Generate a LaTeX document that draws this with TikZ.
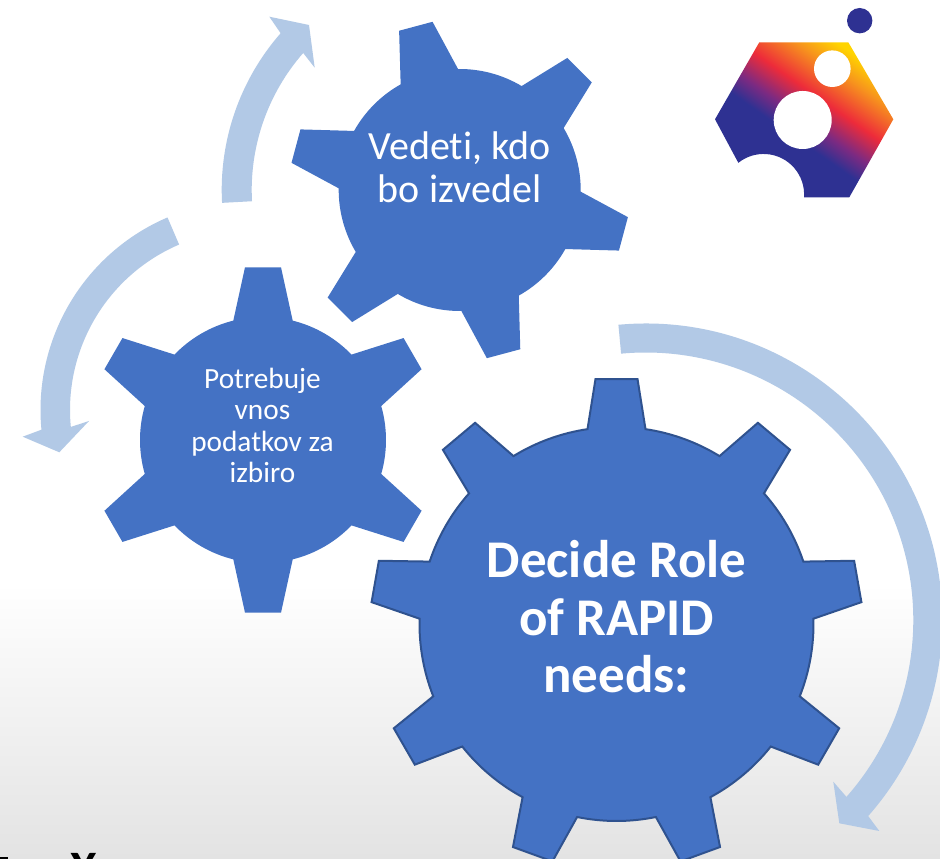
\documentclass[tikz,border=0pt]{standalone}
\usepackage{fontspec}
\setmainfont{Carlito}[Ligatures=NoCommon]
\usepackage{xcolor}
\usepackage{tikz}
\usetikzlibrary{positioning,calc}
\definecolor{gearBlue}{HTML}{4472C4}
\definecolor{gearEdge}{HTML}{2F528F}
\definecolor{arrowBlue}{HTML}{B2C9E6}
\definecolor{logoNavy}{HTML}{2E3192}
\definecolor{logoPurple}{HTML}{7B2A82}
\definecolor{logoRed}{HTML}{ED2B3A}
\definecolor{logoOrange}{HTML}{F7941D}
\definecolor{logoYellow}{HTML}{FFD400}
\pgfdeclareverticalshading{logoShade}{100bp}{
  color(0bp)=(logoNavy); color(44bp)=(logoNavy); color(50bp)=(logoPurple);
  color(58bp)=(logoRed); color(68bp)=(logoOrange); color(75bp)=(logoYellow);
  color(100bp)=(logoYellow)}
\tikzset{
  gearFill/.style={fill=gearBlue},
  gearLine/.style={fill=gearBlue,draw=gearEdge,line width=2pt,line join=miter},
  blockArrow/.style={fill=arrowBlue},
  gearText/.style={text=white,align=center,inner sep=0pt}
}
% options, centre, rim radius, tooth length, base half width, tip half width, teeth, first angle
\newcommand{\gearWheel}[8]{%
  \pgfmathsetmacro{\baseA}{asin(#5/#3)}
  \pgfmathsetmacro{\tipA}{atan(#6/#4)}
  \pgfmathsetmacro{\tipR}{veclen(#4,#6)}
  \pgfmathsetmacro{\stepA}{360/#7}
  \path[#1,shift={(#2)}] (#8+\stepA-\baseA:#3)
    \foreach \i in {1,...,#7}{
      -- (#8+\i*\stepA-\tipA:\tipR) -- (#8+\i*\stepA+\tipA:\tipR) -- (#8+\i*\stepA+\baseA:#3)
      arc[start angle=#8+\i*\stepA+\baseA,delta angle=\stepA-2*\baseA,radius=#3]
    } -- cycle;
}
\begin{document}
\begin{tikzpicture}[x=1pt,y=1pt]
  \useasboundingbox (0,0) rectangle (940,859);
  \clip (0,0) rectangle (940,859);
  \fill[white] (0,0) rectangle (940,859);
  \shade[top color=white,bottom color=black!11] (0,0) rectangle (940,275);

  % circular arrows
  \coordinate (topC) at (459.7,669);
  \fill[blockArrow] ($(topC)+(183.1:238)$) arc[start angle=183.1,end angle=138.8,radius=238]
    -- (269.3,842.3) -- (309,834) -- (314.7,791.3) -- ($(topC)+(138.8:208)$)
    arc[start angle=138.8,end angle=183.1,radius=208] -- cycle;
  \coordinate (leftC) at (250,449);
  \fill[blockArrow] ($(leftC)+(113.2:209.5)$) arc[start angle=113.2,end angle=185.4,radius=209.5]
    -- (22.7,422.3) -- (59.3,406.7) -- (89,438) -- ($(leftC)+(185.4:180)$)
    arc[start angle=185.4,end angle=113.2,radius=180] -- cycle;
  \coordinate (rightC) at (645.8,239);
  \fill[blockArrow] ($(rightC)+(95.3:296.5)$) arc[start angle=95.3,end angle=-41.4,radius=296.5]
    -- (879.3,28) -- (839.3,35.7) -- (833.3,77.3) -- ($(rightC)+(-41.4:267.5)$)
    arc[start angle=-41.4,end angle=95.3,radius=267.5] -- cycle;

  % gears
  \gearWheel{gearFill}{459.7,669}{121}{169.5}{29.7}{17.3}{6}{45}
  \gearWheel{gearFill}{263,419}{123}{172.7}{29.7}{18}{6}{30}
  \gearWheel{gearLine}{616.5,235}{197}{245}{29}{21}{9}{10}

  \node[gearText,font=\fontsize{40}{43.5}\selectfont,anchor=base] (whoText) at (459.7,656)
    {Vedeti, kdo\\bo izvedel};
  \node[gearText,font=\fontsize{29.3}{31.5}\selectfont,anchor=base] (dataText) at (262.5,376)
    {Potrebuje\\vnos\\podatkov za\\izbiro};
  \node[gearText,font=\fontsize{53}{57.5}\selectfont\bfseries,anchor=base] (roleText) at (616.5,166)
    {Decide Role\\of RAPID\\needs:};

  % logo
  \fill[logoNavy] (859.7,838.3) circle[radius=12.7];
  \shade[shading=logoShade,shading angle=-35] (759.3,816.7) -- (848.3,816.7) -- (893.3,739.7)
    -- (849.3,661.7) -- (804,661.7) arc[start angle=-4,end angle=128.6,radius=40.5]
    -- (715,739.7) -- cycle;
  \fill[white] (802.7,739) circle[radius=29];
  \fill[white] (832.3,790.3) circle[radius=18.3];

  % cut-off line at the lower edge
  \node[font=\fontsize{48}{48}\selectfont\bfseries,anchor=base,inner sep=0pt] (cutText) at (83.5,-26) {X};
  \fill[black] (0,0) rectangle (8,2);
\end{tikzpicture}
\end{document}
